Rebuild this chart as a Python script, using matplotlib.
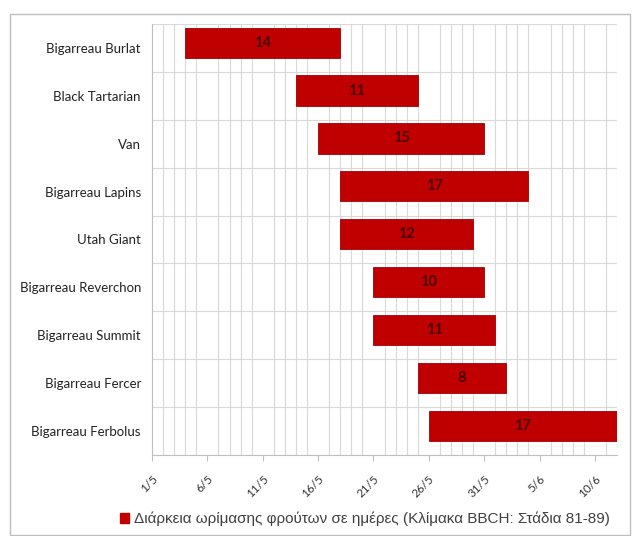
import matplotlib
matplotlib.use("Agg")
import matplotlib.pyplot as plt
from matplotlib.patches import Patch, Rectangle
import datetime as dt

varieties = ["Bigarreau Burlat", "Black Tartarian", "Van", "Bigarreau Lapins",
             "Utah Giant", "Bigarreau Reverchon", "Bigarreau Summit",
             "Bigarreau Fercer", "Bigarreau Ferbolus"]
start_dates = ["4/5", "14/5", "16/5", "18/5", "18/5", "21/5", "21/5", "25/5", "26/5"]
durations = [14, 11, 15, 17, 12, 10, 11, 8, 17]
tick_labels = ["1/5", "6/5", "11/5", "16/5", "21/5", "26/5", "31/5", "5/6", "10/6"]
axis_end = "12/6"
legend_label = "Διάρκεια ωρίμασης φρούτων σε ημέρες (Κλίμακα BBCH: Στάδια 81-89)"

origin = dt.date(2013, 5, 1)
def day(s):
    d, m = s.split("/")
    return (dt.date(2013, int(m), int(d)) - origin).days

starts = [day(s) for s in start_dates]
ticks = [day(s) for s in tick_labels]
xmax = day(axis_end)

fig = plt.figure(figsize=(6.35, 5.36), dpi=100)
fig.patches.append(Rectangle((10/635, 0.002), 620/635, 1 - 14/536 - 0.002,
                             transform=fig.transFigure, fill=False,
                             edgecolor="#bfbfbf", linewidth=1.0))
ax = fig.add_axes([152/635, 1 - 455/536, (617 - 152)/635, (455 - 24)/536])

bar_color = "#C00000"
bar_shift = 0.11
ypos = list(range(len(varieties)))
bar_y = [y - bar_shift for y in ypos]
bars = ax.barh(bar_y, durations, left=starts, height=0.63, color=bar_color,
               edgecolor="#a00000", linewidth=0.6, zorder=3)
for y, s, d in zip(bar_y, starts, durations):
    ax.text(s + d / 2, y, str(d), ha="center", va="center", fontsize=10.5,
            family="Lato", fontweight="bold", color="#4a0000", zorder=4)

ax.set_xlim(0, xmax)
ax.set_ylim(len(varieties) - 0.5, -0.5)
ax.set_yticks(ypos)
ax.set_yticklabels(varieties, family="Lato", fontsize=9.5, color="#222222")
ax.set_yticks([i - 0.5 for i in range(len(varieties) + 1)], minor=True)
ax.set_xticks(ticks)
ax.set_xticklabels(tick_labels, rotation=45, ha="right", rotation_mode="anchor",
                   family="Lato", fontsize=8.5, color="#333333")
ax.set_xticks(range(0, xmax + 1), minor=True)

ax.tick_params(axis="y", which="both", length=0, pad=8)
ax.tick_params(axis="x", which="major", length=4, color="#bfbfbf", pad=9)
ax.tick_params(axis="x", which="minor", length=0)
ax.grid(True, which="minor", axis="both", color="#d9d9d9", linewidth=0.8, zorder=0)
ax.set_axisbelow(True)
for side in ["top", "right"]:
    ax.spines[side].set_visible(False)
ax.spines["left"].set_color("#bfbfbf")
ax.spines["bottom"].set_color("#bfbfbf")

fig.legend(handles=[Patch(facecolor=bar_color, edgecolor=bar_color)],
           labels=[legend_label], loc="center",
           bbox_to_anchor=(365/635, 1 - 519/536), frameon=False,
           handlelength=0.6, handleheight=0.6, handletextpad=0.3,
           prop={"family": "Liberation Sans", "size": 11},
           labelcolor="#404040")

fig.savefig("out.png", dpi=100)
